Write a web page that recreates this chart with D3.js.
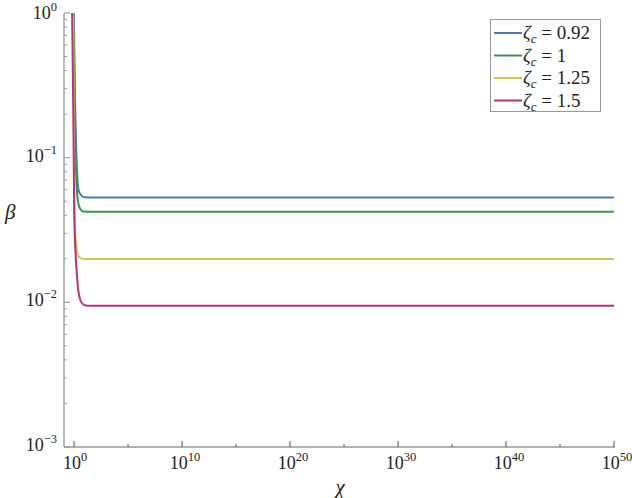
<!DOCTYPE html>
<html><head><meta charset="utf-8">
<script src="https://cdn.jsdelivr.net/npm/d3@7"></script>
</head>
<body style="margin:0"><svg id="c" width="632" height="498"></svg>
<script>
// Data: log10(chi) and log10(beta)
const seriesNames = ["0.92","1","1.25","1.5"];
const seriesColors = ["#4a7bb6","#2e9a3e","#d8c34e","#b8337f"];
const blueLogChi  = [-0.03, 0.11, 0.42, 0.58, 0.95, 1.41, 50];
const blueLogBeta = [0, -0.67, -1.223, -1.251, -1.274, -1.275, -1.275];
const greenLogChi  = [-0.05, 0.07, 0.21, 0.39, 0.58, 0.86, 1.3, 50];
const greenLogBeta = [0, -0.67, -1.154, -1.313, -1.355, -1.372, -1.373, -1.373];
const yellowLogChi  = [-0.09, 0.05, 0.18, 0.30, 0.48, 0.86, 1.3, 50];
const yellowLogBeta = [0, -1.396, -1.604, -1.659, -1.687, -1.700, -1.700, -1.700];
const magentaLogChi  = [-0.18, -0.07, 0.02, 0.23, 0.39, 0.58, 0.86, 1.23, 50];
const magentaLogBeta = [0, -0.67, -1.396, -1.776, -1.915, -1.984, -2.015, -2.023, -2.023];
const xTickExps = [0,10,20,30,40,50];
const xMinorExps = [5,15,25,35,45];
const yTickExps = [0,-1,-2,-3];

const svg = d3.select("#c");
const FONT = "'Liberation Serif'";
const L=64, R=614, T=13, B=447;
const x = d3.scaleLinear().domain([-0.93,50]).range([L,R]);
const y = d3.scaleLinear().domain([-3,0]).range([B,T]);

const series = [
  {chi:blueLogChi,beta:blueLogBeta},
  {chi:greenLogChi,beta:greenLogBeta},
  {chi:yellowLogChi,beta:yellowLogBeta},
  {chi:magentaLogChi,beta:magentaLogBeta}
];
function txt(sel){ return sel.append("text").style("font-family",FONT).style("fill","#222"); }

// axes
const ax = svg.append("g");
ax.append("line").attr("x1",L).attr("x2",L).attr("y1",T).attr("y2",B).attr("stroke","#aaa").attr("stroke-width",1.6);
ax.append("line").attr("x1",L).attr("x2",R+1).attr("y1",B).attr("y2",B).attr("stroke","#666").attr("stroke-width",1.1);

// y ticks
yTickExps.forEach(e=>{
  ax.append("line").attr("x1",L).attr("x2",L+6).attr("y1",y(e)).attr("y2",y(e)).attr("stroke","#999").attr("stroke-width",1.1);
  if(e>-3){
    for(let m=2;m<=9;m++){
      const v=e-1+Math.log10(m);
      ax.append("line").attr("x1",L).attr("x2",L+3).attr("y1",y(v)).attr("y2",y(v)).attr("stroke","#999").attr("stroke-width",1);
    }
  }
  const t = txt(ax).attr("x",57).attr("y",y(e)+(e===0?6:4)).attr("text-anchor","end").style("font-size","18px");
  t.append("tspan").text("10");
  t.append("tspan").attr("dy",-8).style("font-size","12.5px").text(e===0?"0":"\u2212"+(-e));
});
// x ticks
xTickExps.forEach(e=>{
  ax.append("line").attr("x1",x(e)).attr("x2",x(e)).attr("y1",B).attr("y2",B-6).attr("stroke","#555").attr("stroke-width",1);
  const t = txt(ax).attr("x",x(e)+(e===0?1:3)).attr("y",469).attr("text-anchor","middle").style("font-size","18px");
  t.append("tspan").text("10");
  t.append("tspan").attr("dy",-8).style("font-size","12.5px").text(String(e));
});
xMinorExps.forEach(e=>{
  ax.append("line").attr("x1",x(e)).attr("x2",x(e)).attr("y1",B).attr("y2",B-3).attr("stroke","#555").attr("stroke-width",1);
});

// axis labels
txt(svg).attr("x",5).attr("y",219).style("font-size","21px").style("font-style","italic").text("β");
txt(svg).attr("x",340).attr("y",494).attr("text-anchor","middle").style("font-size","21px").style("font-style","italic").text("χ");

// clip
svg.append("clipPath").attr("id","clip").append("rect").attr("x",L).attr("y",T).attr("width",R-L+2).attr("height",B-T);

const line = d3.line().x(d=>x(d[0])).y(d=>y(d[1])).curve(d3.curveMonotoneX);
const g = svg.append("g").attr("clip-path","url(#clip)");
series.forEach((s,i)=>{
  const pts = s.chi.map((c,j)=>[c,s.beta[j]]);
  g.append("path").attr("d",line(pts)).attr("fill","none").attr("stroke",seriesColors[i]).attr("stroke-width",2);
});

// legend
const lg = svg.append("g");
lg.append("rect").attr("x",490.5).attr("y",19.5).attr("width",110).attr("height",92).attr("fill","#fff").attr("stroke","#999").attr("stroke-width",1);
const rows=[33,55.5,78,100.5];
seriesNames.forEach((n,i)=>{
  lg.append("line").attr("x1",494).attr("x2",522).attr("y1",rows[i]).attr("y2",rows[i]).attr("stroke",seriesColors[i]).attr("stroke-width",2);
  const t = txt(lg).attr("x",523).attr("y",rows[i]+6).style("font-size","19px");
  t.append("tspan").style("font-style","italic").text("ζ");
  t.append("tspan").attr("dy",4).style("font-style","italic").style("font-size","13px").text("c");
  t.append("tspan").attr("dy",-4).text(" = "+n);
});
</script></body></html>
